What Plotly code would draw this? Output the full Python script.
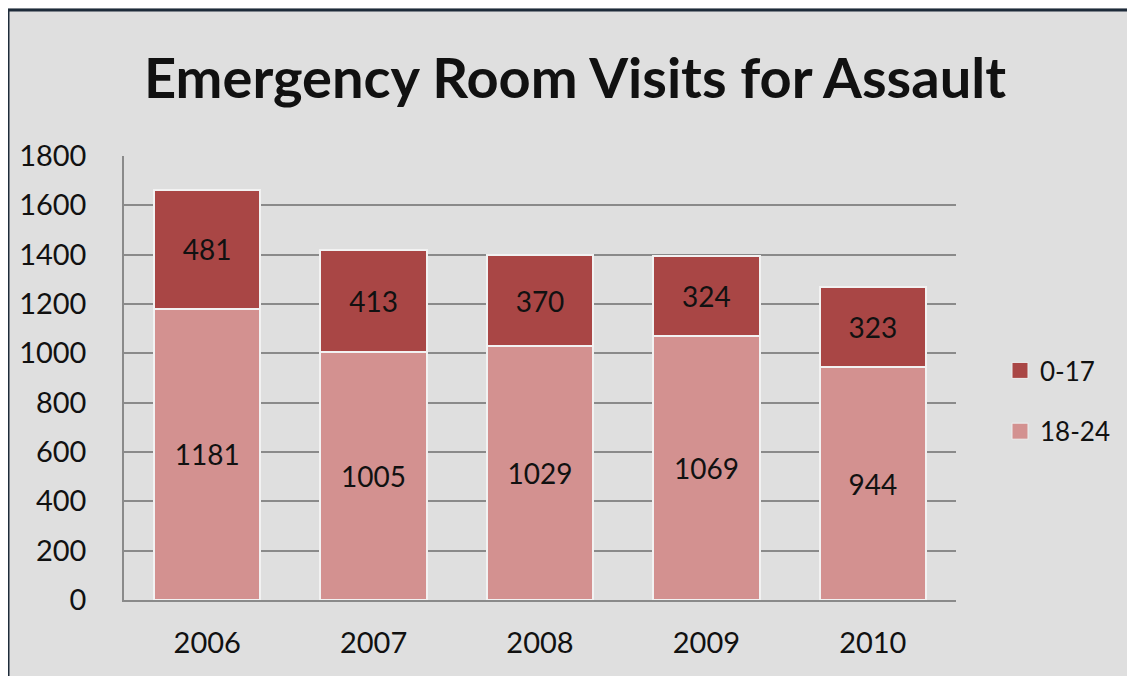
import plotly.graph_objects as go

years = ["2006", "2007", "2008", "2009", "2010"]
age_18_24 = [1181, 1005, 1029, 1069, 944]
age_0_17 = [481, 413, 370, 324, 323]
series_names = ["18-24", "0-17"]
colors = ["#D39190", "#A94645"]

FONT = "Lato, 'Open Sans', sans-serif"
OFF = 8  # page body margin

fig = go.Figure()
for name, vals, col in zip(series_names, [age_18_24, age_0_17], colors):
    fig.add_trace(go.Bar(
        x=years, y=vals, name=name, showlegend=False,
        marker=dict(color=col, line=dict(color="#F2F2F2", width=2)),
        text=[str(v) for v in vals], textposition="inside",
        insidetextanchor="middle", textangle=0,
        textfont=dict(family=FONT, size=28, color="#111111"),
        cliponaxis=False,
    ))

# legend entries (0-17 first, as in the reference)
for rank, (name, col) in enumerate(zip(series_names[::-1], colors[::-1])):
    fig.add_trace(go.Scatter(
        x=[None], y=[None], mode="markers", name=name, legendgroup=name,
        legendrank=rank + 1,
        marker=dict(symbol="square", size=16, color=col,
                    line=dict(color="#EDEDED", width=1)),
    ))

W, H = 1135, 676
l, r, t, b = 124 - OFF, 1135 - (956 - OFF), 156 - OFF, 676 - (600 - OFF)
pw, ph = W - l - r, H - t - b

def px_x(x):
    return (x - OFF - l) / pw

def px_y(y):
    return (H - b - (y - OFF)) / ph

fig.update_layout(
    width=W, height=H,
    margin=dict(l=l, r=r, t=t, b=b, pad=0),
    barmode="stack", bargap=0.36,
    paper_bgcolor="#DFDFDF", plot_bgcolor="#DFDFDF",
    font=dict(family=FONT, color="#111111"),
    title=dict(text="<b>Emergency Room Visits for Assault</b>",
               x=px_x(575), xref="paper", xanchor="center",
               y=1 - (78 - OFF) / H, yanchor="middle",
               font=dict(family=FONT, size=56, color="#111111")),
    showlegend=True,
    legend=dict(x=px_x(1000), xanchor="left", y=px_y(347), yanchor="top",
                traceorder="grouped", tracegroupgap=24,
                font=dict(family=FONT, size=26, color="#111111"),
                bgcolor="rgba(0,0,0,0)", itemwidth=30),
    xaxis=dict(showgrid=False, showline=True, linecolor="#8A8A8A", linewidth=1.5,
               ticks="", tickfont=dict(family=FONT, size=29, color="#111111"),
               ticklabelstandoff=16),
    yaxis=dict(range=[0, 1800], dtick=200, showgrid=True, gridcolor="#8A8A8A",
               gridwidth=1.5, showline=True, linecolor="#8A8A8A", linewidth=1.5,
               ticks="", tickfont=dict(family=FONT, size=29, color="#111111"),
               ticklabelstandoff=30, zeroline=False),
    shapes=[dict(type="rect", xref="paper", yref="paper",
                 x0=px_x(8), x1=px_x(1250), y0=px_y(760), y1=px_y(10),
                 line=dict(color="#1E2B3A", width=3), fillcolor="rgba(0,0,0,0)",
                 layer="above")],
)

fig.write_html("out.html")
